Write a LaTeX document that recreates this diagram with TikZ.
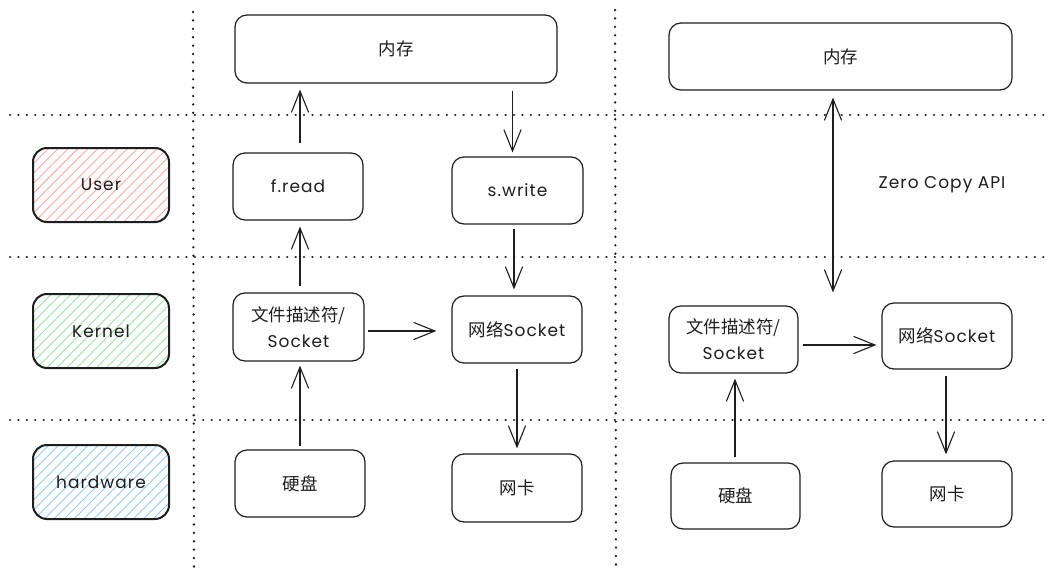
\documentclass[tikz,border=0pt]{standalone}
\usepackage{fontspec}
\setmainfont{Poppins}[LetterSpace=6]
\newfontfamily\cjkf{Noto Sans CJK SC}
\newcommand{\cjk}[1]{{\cjkf\fontsize{17.5}{26}\selectfont #1}}
\usetikzlibrary{arrows.meta,patterns.meta}
\definecolor{pinkc}{HTML}{FFA8A8}
\definecolor{greenc}{HTML}{9BE3A6}
\definecolor{bluec}{HTML}{94CAF8}
\definecolor{inkc}{HTML}{1E1E1E}
\tikzset{
  box/.style={draw=inkc, line width=1.2pt, rounded corners=12pt, inner sep=0pt, align=center, font=\fontsize{17}{26}\selectfont, text=inkc},
  lane/.style={draw=inkc, line width=2pt, rounded corners=14pt, minimum width=136pt, minimum height=74pt, inner sep=0pt, font=\fontsize{17}{20}\selectfont, text=inkc},
  arr/.style={draw=inkc, line width=1.2pt, -{Straight Barb[angle=44:23pt,line width=1.1pt]}},
  darr/.style={draw=inkc, line width=1.2pt, {Straight Barb[angle=44:23pt,line width=1.1pt]}-{Straight Barb[angle=44:23pt,line width=1.1pt]}},
  sep/.style={draw=inkc, line width=2.5pt, line cap=round, dash pattern=on 0.1pt off 8.3pt},
}
\begin{document}
\begin{tikzpicture}[x=1pt,y=-1pt]
\useasboundingbox (0,0) rectangle (1062,583);
\fill[white] (0,0) rectangle (1062,583);
% separators
\draw[sep] (10,115) -- (1047,115);
\draw[sep] (10,257) -- (1047,257);
\draw[sep] (10,420) -- (1047,420);
\draw[sep] (193,12) -- (194,570);
\draw[sep] (615,10) -- (616,572);
% lanes
\node[lane, pattern={Lines[angle=45,distance=7pt,line width=0.9pt]}, pattern color=pinkc] (user) at (101,185) {User};
\node[lane, pattern={Lines[angle=45,distance=7pt,line width=0.9pt]}, pattern color=greenc] (kernel) at (101,331) {Kernel};
\node[lane, pattern={Lines[angle=45,distance=7pt,line width=0.9pt]}, pattern color=bluec] (hw) at (101,482) {hardware};
% left system
\node[box, minimum width=322pt, minimum height=68pt] (mem1) at (396,49) {\cjk{内存}};
\node[box, minimum width=130pt, minimum height=67pt] (fread) at (298,186.5) {f.read};
\node[box, minimum width=131pt, minimum height=67pt] (swrite) at (517.5,190.5) {s.write};
\node[box, minimum width=131pt, minimum height=68pt] (fd1) at (298.5,327) {\cjk{文件描述符/}\\Socket};
\node[box, minimum width=130pt, minimum height=67pt] (ns1) at (517,329.5) {\cjk{网络}Socket};
\node[box, minimum width=130pt, minimum height=67pt] (disk1) at (300,483.5) {\cjk{硬盘}};
\node[box, minimum width=130pt, minimum height=68pt] (nic1) at (517,488) {\cjk{网卡}};
% right system
\node[box, minimum width=343pt, minimum height=67pt] (mem2) at (840.5,56.5) {\cjk{内存}};
\node[box, minimum width=129pt, minimum height=67pt] (fd2) at (733.5,339.5) {\cjk{文件描述符/}\\Socket};
\node[box, minimum width=130pt, minimum height=66pt] (ns2) at (947,336) {\cjk{网络}Socket};
\node[box, minimum width=129pt, minimum height=66pt] (disk2) at (735.5,496) {\cjk{硬盘}};
\node[box, minimum width=130pt, minimum height=66pt] (nic2) at (947,494) {\cjk{网卡}};
\node[font=\fontsize{17}{20}\selectfont, text=inkc] (zc) at (942,185) {Zero Copy API};
% arrows left
\draw[arr, shorten <=9pt, shorten >=6pt] ([xshift=2pt]fread.north) -- ([xshift=2pt]fread.north |- mem1.south);
\draw[arr, shorten <=7pt, shorten >=4pt] ([xshift=-5pt]swrite.north |- mem1.south) -- ([xshift=-5pt]swrite.north);
\draw[arr, shorten <=6pt, shorten >=6pt] ([xshift=1.5pt]fd1.north) -- ([xshift=1.5pt]fd1.north |- fread.south);
\draw[arr, shorten <=4pt, shorten >=6pt] ([xshift=-3.5pt]swrite.south) -- ([xshift=-3.5pt]swrite.south |- ns1.north);
\draw[arr, shorten <=3pt, shorten >=15pt] ([yshift=-4pt]fd1.east) -- ([yshift=-4pt]fd1.east -| ns1.west);
\draw[arr, shorten <=3pt, shorten >=4pt] (disk1.north) -- (disk1.north |- fd1.south);
\draw[arr, shorten <=5pt, shorten >=5pt] (ns1.south) -- (ns1.south |- nic1.north);
% arrows right
\draw[darr, shorten <=7pt, shorten >=13pt] ([xshift=-7.5pt]mem2.south) -- ([xshift=-7.5pt]mem2.south |- fd2.north);
\draw[arr, shorten <=4pt, shorten >=5pt] ([yshift=-5.5pt]fd2.east) -- ([yshift=-5.5pt]fd2.east -| ns2.west);
\draw[arr, shorten <=5pt, shorten >=5pt] ([xshift=-0.5pt]disk2.north) -- ([xshift=-0.5pt]disk2.north |- fd2.south);
\draw[arr, shorten <=6pt, shorten >=6pt] ([xshift=-1pt]ns2.south) -- ([xshift=-1pt]ns2.south |- nic2.north);
\end{tikzpicture}
\end{document}
